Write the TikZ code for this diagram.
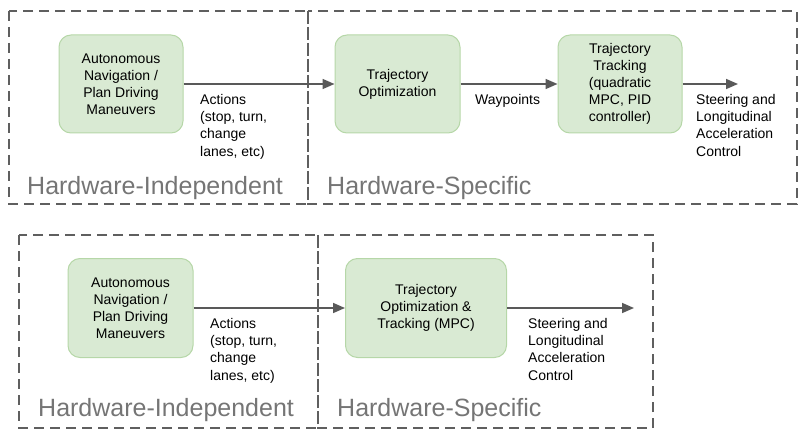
\documentclass[tikz,border=0pt]{standalone}
\usepackage{fontspec}
\setmainfont{Liberation Sans}
\usetikzlibrary{arrows.meta}
\definecolor{boxfill}{HTML}{D9EAD3}
\definecolor{boxdraw}{HTML}{B6D7A8}
\definecolor{dashgray}{HTML}{5F5F5F}
\definecolor{titlegray}{HTML}{757575}
\definecolor{arrowgray}{HTML}{595959}
\tikzset{
  procbox/.style={draw=boxdraw, fill=boxfill, line width=1pt, rounded corners=12pt,
    align=center, inner sep=0pt, font=\fontsize{14}{17}\selectfont},
  groupbox/.style={draw=dashgray, line width=2.6pt, dash pattern=on 10pt off 6pt},
  grouptitle/.style={text=titlegray, font=\fontsize{25}{28}\selectfont, anchor=base west, inner sep=0pt},
  lbl/.style={align=left, anchor=north west, inner sep=0pt, font=\fontsize{14}{17.3}\selectfont},
  flow/.style={draw=arrowgray, line width=1.6pt, -{Triangle[length=12pt,width=10pt]}},
}
\begin{document}
\begin{tikzpicture}[x=1pt,y=-1pt]
\useasboundingbox (0,0) rectangle (809,441);
% group boxes top
\draw[groupbox] (9,11) rectangle (308,204);
\draw[groupbox] (308,11) rectangle (797,204);
\node[grouptitle] (t1) at (27,195) {Hardware-Independent};
\node[grouptitle] (t2) at (327,195) {Hardware-Specific};
% nodes top
\node[procbox, minimum width=124pt, minimum height=98pt] (a1) at (121,84) {Autonomous\\Navigation /\\Plan Driving\\Maneuvers};
\node[procbox, minimum width=125pt, minimum height=98pt] (b1) at (397.5,84) {Trajectory\\Optimization};
\node[procbox, minimum width=124pt, minimum height=98pt] (c1) at (620,84) {Trajectory\\Tracking\\(quadratic\\MPC, PID\\controller)};
\coordinate (o1) at (738,84);
\draw[flow] (a1) -- (b1);
\draw[flow] (b1) -- (c1);
\draw[flow] (c1) -- (o1);
\node[lbl] (l1) at (200,94) {Actions\\(stop, turn,\\change\\lanes, etc)};
\node[lbl] (l2) at (475,94) {Waypoints};
\node[lbl] (l3) at (696,94) {Steering and\\Longitudinal\\Acceleration\\Control};
% group boxes bottom
\draw[groupbox] (19,235) rectangle (318,428);
\draw[groupbox] (318,235) rectangle (653,428);
\node[grouptitle] (t3) at (38,416) {Hardware-Independent};
\node[grouptitle] (t4) at (337,416) {Hardware-Specific};
% nodes bottom
\node[procbox, minimum width=125pt, minimum height=99pt] (a2) at (130.5,308) {Autonomous\\Navigation /\\Plan Driving\\Maneuvers};
\node[procbox, minimum width=161pt, minimum height=99pt] (b2) at (426,308) {Trajectory\\Optimization \&\\Tracking (MPC)};
\coordinate (o2) at (634,308);
\draw[flow] (a2) -- (b2);
\draw[flow] (b2) -- (o2);
\node[lbl] (l4) at (210,318) {Actions\\(stop, turn,\\change\\lanes, etc)};
\node[lbl] (l5) at (528,318) {Steering and\\Longitudinal\\Acceleration\\Control};
\end{tikzpicture}
\end{document}
